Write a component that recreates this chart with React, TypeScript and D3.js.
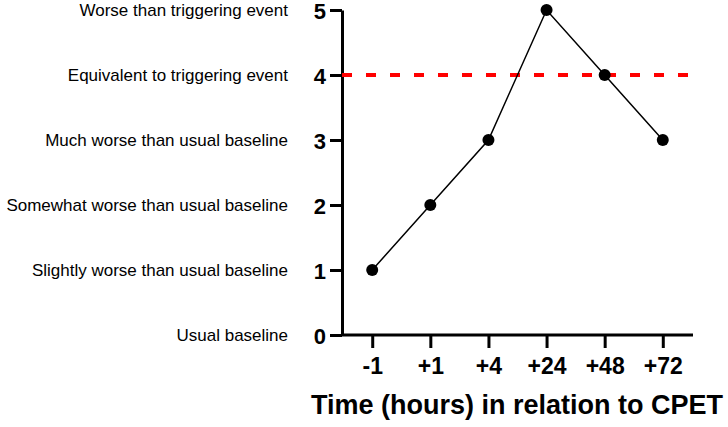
import React, { useEffect, useRef } from "react";
import * as d3 from "d3";

const timepoints = ["-1", "+1", "+4", "+24", "+48", "+72"];
const scores = [1, 2, 3, 5, 4, 3];
const yTicks = [0, 1, 2, 3, 4, 5];
const yCategories = [
  "Usual baseline",
  "Slightly worse than usual baseline",
  "Somewhat worse than usual baseline",
  "Much worse than usual baseline",
  "Equivalent to triggering event",
  "Worse than triggering event",
];
const thresholdValue = 4;

export default function App() {
  const ref = useRef<SVGSVGElement>(null);

  useEffect(() => {
    const svg = d3.select(ref.current);
    svg.selectAll("*").remove();

    const left = 342;
    const right = 693;
    const top = 10;
    const bottom = 335;

    const x = d3.scalePoint<string>().domain(timepoints).range([left, right]).padding(0.52);
    const y = d3.scaleLinear().domain([0, 5]).range([bottom, top]);

    const font = "Arial, 'Liberation Sans', sans-serif";

    // y axis
    const yAxis = svg
      .append("g")
      .attr("transform", `translate(${left},0)`)
      .call(d3.axisLeft(y).tickValues(yTicks).tickFormat(d3.format("d")).tickSize(12).tickSizeOuter(0));
    yAxis.select(".domain").attr("stroke", "#000").attr("stroke-width", 3);
    yAxis.selectAll(".tick line").attr("stroke", "#000").attr("stroke-width", 3);
    yAxis
      .selectAll(".tick text")
      .attr("font-family", font)
      .attr("font-weight", "bold")
      .attr("font-size", 22)
      .attr("fill", "#000")
      .attr("x", -16)
      .attr("y", 1.5);

    // x axis
    const xAxis = svg
      .append("g")
      .attr("transform", `translate(0,${bottom})`)
      .call(d3.axisBottom(x).tickSize(13).tickSizeOuter(0));
    xAxis.select(".domain").attr("stroke", "#000").attr("stroke-width", 3).attr("d", `M${left},0H${right}`);
    xAxis.selectAll(".tick line").attr("stroke", "#000").attr("stroke-width", 3);
    xAxis
      .selectAll(".tick text")
      .attr("font-family", font)
      .attr("font-weight", "bold")
      .attr("font-size", 23)
      .attr("fill", "#000")
      .attr("y", 23);

    // category labels
    svg
      .append("g")
      .selectAll("text")
      .data(yCategories)
      .enter()
      .append("text")
      .attr("x", 288)
      .attr("y", (_, i) => y(i))
      .attr("dy", "0.35em")
      .attr("text-anchor", "end")
      .attr("font-family", font)
      .attr("font-size", 17)
      .attr("fill", "#000")
      .text((d) => d);

    // threshold
    svg
      .append("line")
      .attr("x1", left)
      .attr("x2", right)
      .attr("y1", y(thresholdValue))
      .attr("y2", y(thresholdValue))
      .attr("stroke", "#ff0000")
      .attr("stroke-width", 4)
      .attr("stroke-dasharray", "10,14");

    // line + points
    const data = timepoints.map((t, i) => ({ t, v: scores[i] }));
    const line = d3
      .line<{ t: string; v: number }>()
      .x((d) => x(d.t)!)
      .y((d) => y(d.v));
    svg
      .append("path")
      .datum(data)
      .attr("d", line)
      .attr("fill", "none")
      .attr("stroke", "#000")
      .attr("stroke-width", 1.5);
    svg
      .append("g")
      .selectAll("circle")
      .data(data)
      .enter()
      .append("circle")
      .attr("cx", (d) => x(d.t)!)
      .attr("cy", (d) => y(d.v))
      .attr("r", 6)
      .attr("fill", "#000");

    // x title
    svg
      .append("text")
      .attr("x", 517)
      .attr("y", 414)
      .attr("text-anchor", "middle")
      .attr("font-family", font)
      .attr("font-weight", "bold")
      .attr("font-size", 27)
      .attr("fill", "#000")
      .text("Time (hours) in relation to CPET");
  }, []);

  return (
    <div style={{ position: "absolute", left: 0, top: 0 }}>
      <svg ref={ref} width={728} height={427} style={{ display: "block", background: "#fff" }} />
    </div>
  );
}
